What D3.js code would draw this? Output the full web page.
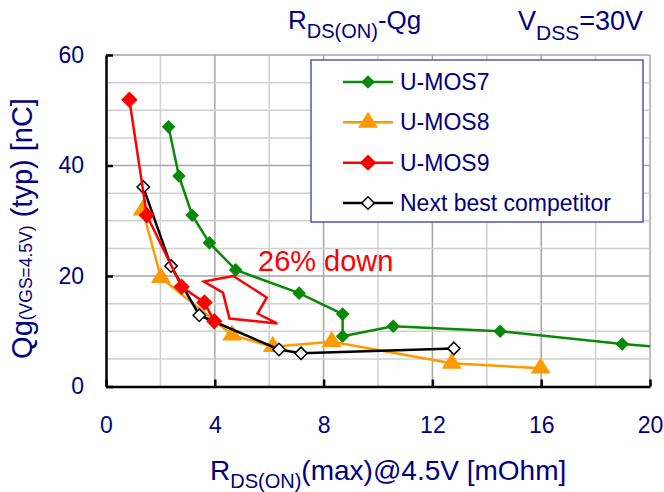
<!DOCTYPE html>
<html>
<head>
<meta charset="utf-8">
<script src="https://cdn.jsdelivr.net/npm/d3@7"></script>
<style>
  html, body { margin: 0; padding: 0; background: #fff; }
  svg { display: block; font-family: "Liberation Sans", Arial, sans-serif; }
</style>
</head>
<body>
<svg id="chart" width="664" height="492"></svg>
<script>
// ---- data ----
const xTicks = [0, 4, 8, 12, 16, 20];
const yTicks = [0, 20, 40, 60];
const seriesNames = ["U-MOS7", "U-MOS8", "U-MOS9", "Next best competitor"];

const umos7X = [2.3, 2.68, 3.17, 3.8, 4.77, 7.1, 8.7, 8.7, 10.56, 14.49, 18.98, 22.0];
const umos7Y = [47.0, 38.1, 31.0, 26.0, 21.1, 16.9, 13.1, 9.1, 10.9, 10.0, 7.7, 6.5];

const umos8X = [1.35, 2.02, 4.64, 6.13, 8.3, 12.71, 15.98];
const umos8Y = [31.9, 19.7, 9.3, 7.2, 8.1, 4.2, 3.3];

const umos9X = [0.86, 1.5, 2.78, 3.62, 3.98];
const umos9Y = [51.9, 31.0, 18.05, 15.2, 11.8];

const compX = [1.37, 2.39, 3.43, 6.36, 7.17, 12.79];
const compY = [36.1, 21.8, 12.9, 6.7, 6.0, 6.9];

// annotation arrow outline (data units)
const arrowX = [4.68, 3.6, 4.3, 4.54, 6.3, 5.57, 5.91];
const arrowY = [20.0, 19.0, 17.0, 12.3, 11.4, 13.2, 16.1];
const annotationText = "26% down";

// ---- layout ----
const svg = d3.select("#chart");
const pL = 106, pR = 650, pT = 55, pB = 386.5;
const x = d3.scaleLinear().domain([0, 20]).range([pL, pR]);
const y = d3.scaleLinear().domain([0, 60]).range([pB, pT]);
const navy = "#000080";

svg.append("defs").append("clipPath").attr("id", "plotclip")
  .append("rect").attr("x", pL).attr("y", pT - 12)
  .attr("width", pR - pL).attr("height", pB - pT + 12);

// grid
const grid = svg.append("g");
grid.selectAll("line.gx").data(d3.range(2, 21, 2)).join("line")
  .attr("x1", d => x(d)).attr("x2", d => x(d))
  .attr("y1", pT).attr("y2", pB)
  .attr("stroke", d => d % 4 === 0 ? "#a6a6a6" : "#d0d0d0")
  .attr("stroke-width", 1.5);
grid.selectAll("line.gy").data(d3.range(5, 61, 5)).join("line")
  .attr("x1", pL).attr("x2", pR)
  .attr("y1", d => y(d)).attr("y2", d => y(d))
  .attr("stroke", d => d % 20 === 0 ? "#a6a6a6" : "#d0d0d0")
  .attr("stroke-width", 1.5);

// axes
const xAxis = svg.append("g").attr("transform", `translate(0,${pB})`)
  .call(d3.axisBottom(x).tickValues(xTicks).tickSizeInner(-7).tickSizeOuter(0).tickPadding(30));
const yAxis = svg.append("g").attr("transform", `translate(${pL},0)`)
  .call(d3.axisLeft(y).tickValues(yTicks).tickSizeInner(-7).tickSizeOuter(0).tickPadding(22));
[xAxis, yAxis].forEach(a => {
  a.select(".domain").attr("stroke", "#000").attr("stroke-width", 2.5);
  a.selectAll(".tick line").attr("stroke", "#000").attr("stroke-width", 2.5);
  a.selectAll(".tick text").attr("fill", navy).attr("font-size", 23)
    .attr("font-family", "Liberation Sans, Arial, sans-serif");
});

// arrow annotation
const arrowPts = arrowX.map((v, i) => [x(v), y(arrowY[i])]);
svg.append("path")
  .attr("d", d3.line()(arrowPts) + "Z")
  .attr("fill", "#fff").attr("stroke", "#ff0000").attr("stroke-width", 2.5)
  .attr("stroke-linejoin", "miter");
svg.append("text").attr("x", 258).attr("y", 271)
  .attr("fill", "#ff0000").attr("font-size", 29).text(annotationText);

// series
const diamond = s => `M0,${-s}L${s},0L0,${s}L${-s},0Z`;
const triangle = (w, h) => `M0,${-h * 2 / 3}L${w / 2},${h / 3}L${-w / 2},${h / 3}Z`;

const series = [
  { name: seriesNames[0], xs: umos7X, ys: umos7Y, color: "#088a08", marker: diamond(6.8), fill: "#088a08", mstroke: "none" },
  { name: seriesNames[1], xs: umos8X, ys: umos8Y, color: "#ff9900", marker: triangle(20, 16), fill: "#ff9900", mstroke: "none" },
  { name: seriesNames[3], xs: compX, ys: compY, color: "#000000", marker: diamond(6.2), fill: "#ffffff", mstroke: "#000" },
  { name: seriesNames[2], xs: umos9X, ys: umos9Y, color: "#ff0000", marker: diamond(8.2), fill: "#ff0000", mstroke: "none" }
];

const plot = svg.append("g").attr("clip-path", "url(#plotclip)");
const lineGen = d3.line().x(d => x(d[0])).y(d => y(d[1]));
series.forEach(s => {
  const pts = s.xs.map((v, i) => [v, s.ys[i]]);
  const g = plot.append("g");
  g.append("path").attr("d", lineGen(pts)).attr("fill", "none")
    .attr("stroke", s.color).attr("stroke-width", 2.5).attr("stroke-linejoin", "round");
  g.selectAll("path.m").data(pts).join("path")
    .attr("transform", d => `translate(${x(d[0])},${y(d[1])})`)
    .attr("d", s.marker).attr("fill", s.fill)
    .attr("stroke", s.mstroke).attr("stroke-width", 1.5);
});

// legend
const legOrder = [series[0], series[1], series[3], series[2]];
const leg = svg.append("g");
leg.append("rect").attr("x", 311).attr("y", 60).attr("width", 332).attr("height", 162)
  .attr("fill", "#fff").attr("stroke", "#5555aa").attr("stroke-width", 1.5);
const rowY = d3.scalePoint().domain(legOrder.map(d => d.name)).range([82, 203]);
legOrder.forEach(s => {
  const ry = rowY(s.name);
  leg.append("line").attr("x1", 343).attr("x2", 393).attr("y1", ry).attr("y2", ry)
    .attr("stroke", s.color).attr("stroke-width", 2.5);
  leg.append("path").attr("transform", `translate(368,${ry})`).attr("d", s.marker)
    .attr("fill", s.fill).attr("stroke", s.mstroke).attr("stroke-width", 1.5);
  leg.append("text").attr("x", 400).attr("y", ry).attr("dy", "0.35em")
    .attr("fill", navy).attr("font-size", 23).text(s.name);
});

// titles
const t1 = svg.append("text").attr("x", 288).attr("y", 29).attr("fill", navy).attr("font-size", 26);
t1.append("tspan").text("R");
t1.append("tspan").attr("font-size", 20).attr("dy", 9).text("DS(ON)");
t1.append("tspan").attr("dy", -9).text("-Qg");

const t2 = svg.append("text").attr("x", 518).attr("y", 30).attr("fill", navy).attr("font-size", 27);
t2.append("tspan").text("V");
t2.append("tspan").attr("font-size", 21).attr("dy", 10).text("DSS");
t2.append("tspan").attr("dy", -10).text("=30V");

const xt = svg.append("text").attr("x", 210).attr("y", 480).attr("fill", navy).attr("font-size", 28);
xt.append("tspan").text("R");
xt.append("tspan").attr("font-size", 20).attr("dy", 8).text("DS(ON)");
xt.append("tspan").attr("dy", -8).text("(max)@4.5V [mOhm]");

const yt = svg.append("text").attr("transform", "translate(32,228.5) rotate(-90)")
  .attr("text-anchor", "middle").attr("fill", navy).attr("font-size", 29);
yt.append("tspan").text("Qg");
yt.append("tspan").attr("font-size", 17.5).text("(VGS=4.5V)");
yt.append("tspan").text(" (typ) [nC]");
</script>
</body>
</html>
